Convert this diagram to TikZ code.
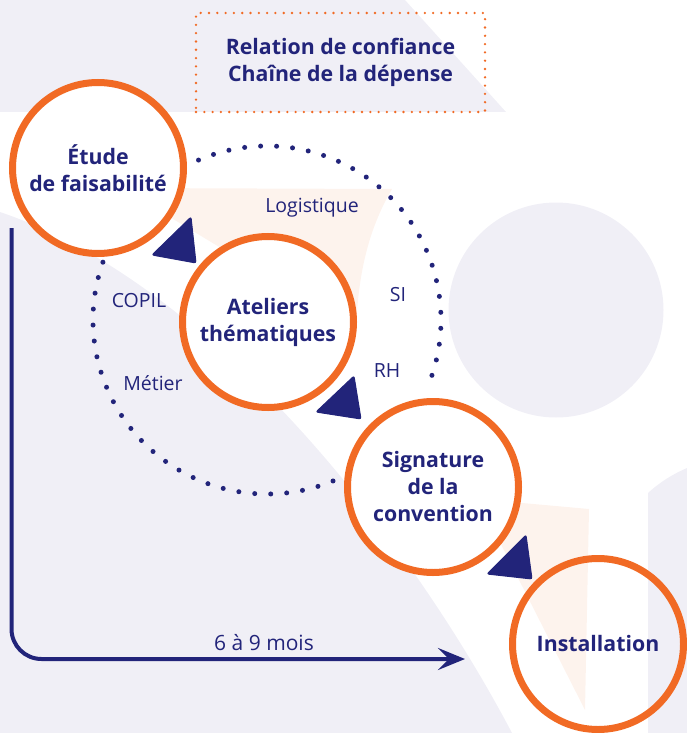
\documentclass[tikz,border=0pt]{standalone}
\usepackage{fontspec}
\setmainfont{Open Sans}
\usetikzlibrary{arrows.meta}
\definecolor{navy}{RGB}{34,36,122}
\definecolor{orng}{RGB}{241,106,36}
\definecolor{bggrey}{RGB}{240,239,246}
\definecolor{peach}{RGB}{253,243,237}
\tikzset{
  stage/.style={circle, draw=orng, line width=7bp, fill=white, minimum size=171bp, inner sep=0pt,
    align=center, text=navy, font=\fontsize{21.3bp}{27bp}\selectfont\bfseries},
  lbl/.style={text=navy, inner sep=0pt, font=\fontsize{19.5bp}{22bp}\selectfont},
  dotline/.style={navy, line width=5bp, line cap=round, dash pattern=on 0bp off 16bp},
  dotbox/.style={draw=orng, line width=2.6bp, line cap=round, dash pattern=on 0bp off 8.3bp},
  tri/.style={fill=navy, draw=navy, line width=1bp, rounded corners=2bp},
  timeline/.style={navy, line width=4bp, rounded corners=30bp,
    -{Stealth[length=27bp, width=22bp, inset=11bp]}}
}
\begin{document}
\begin{tikzpicture}[x=1bp,y=-1bp]
\useasboundingbox (0,0) rectangle (687,733);
% background shapes
\fill[bggrey] (0,0) -- (405,0) -- (506,112) -- (0,112) -- cycle;
\fill[bggrey] (0,212) .. controls (215,285) and (412,543) .. (512,733) -- (0,733) -- cycle;
\fill[bggrey] (556,310) circle[radius=107.5];
\fill[bggrey] (648,493) .. controls (660,482) and (673,474) .. (687,468) -- (687,733) -- (648,733) -- cycle;
\fill[peach] (122,188) -- (392,189) .. controls (368,230) and (358,275) .. (356,330) -- cycle;
\fill[peach] (478,499) -- (589,509) -- (585,710) -- cycle;
% dotted orbit
\draw[dotline] ([shift={(67.7:174)}]267,320) arc[start angle=67.7, end angle=382.2, radius=174];
% title box
\node[dotbox, minimum width=289bp, minimum height=99bp, inner sep=0pt, align=center, text=navy,
  font=\fontsize{21.3bp}{27bp}\selectfont\bfseries] (rel) at (340.5,62.5)
  {Relation de confiance\\Chaîne de la dépense};
% timeline arrow
\coordinate (tstart) at (11.5,228);
\coordinate (tend) at (465,659);
\draw[timeline] (tstart) |- (tend);
\node[lbl, font=\fontsize{21bp}{24bp}\selectfont] (dur) at (264,643) {6 à 9 mois};
% triangles
\fill[tri] (191,217) -- (152,255) -- (196,263) -- cycle;
\fill[tri] (354,376) -- (316,412) -- (361,419) -- cycle;
\fill[tri] (526,535) -- (487,574) -- (532,579) -- cycle;
% stages
\node[stage] (etude) at (98,168) {Étude\\de faisabilité};
\node[stage] (ateliers) at (268,322) {Ateliers\\thématiques};
\node[stage] (signature) at (433,487) {Signature\\de la\\convention};
\node[stage, fill=none] (install) at (598,644) {Installation};
% labels
\node[lbl] (logi) at (312,208) {Logistique};
\node[lbl] (si) at (398,295) {SI};
\node[lbl] (rh) at (387,371) {RH};
\node[lbl] (copil) at (139,301) {COPIL};
\node[lbl] (metier) at (153,383) {Métier};
\end{tikzpicture}
\end{document}
